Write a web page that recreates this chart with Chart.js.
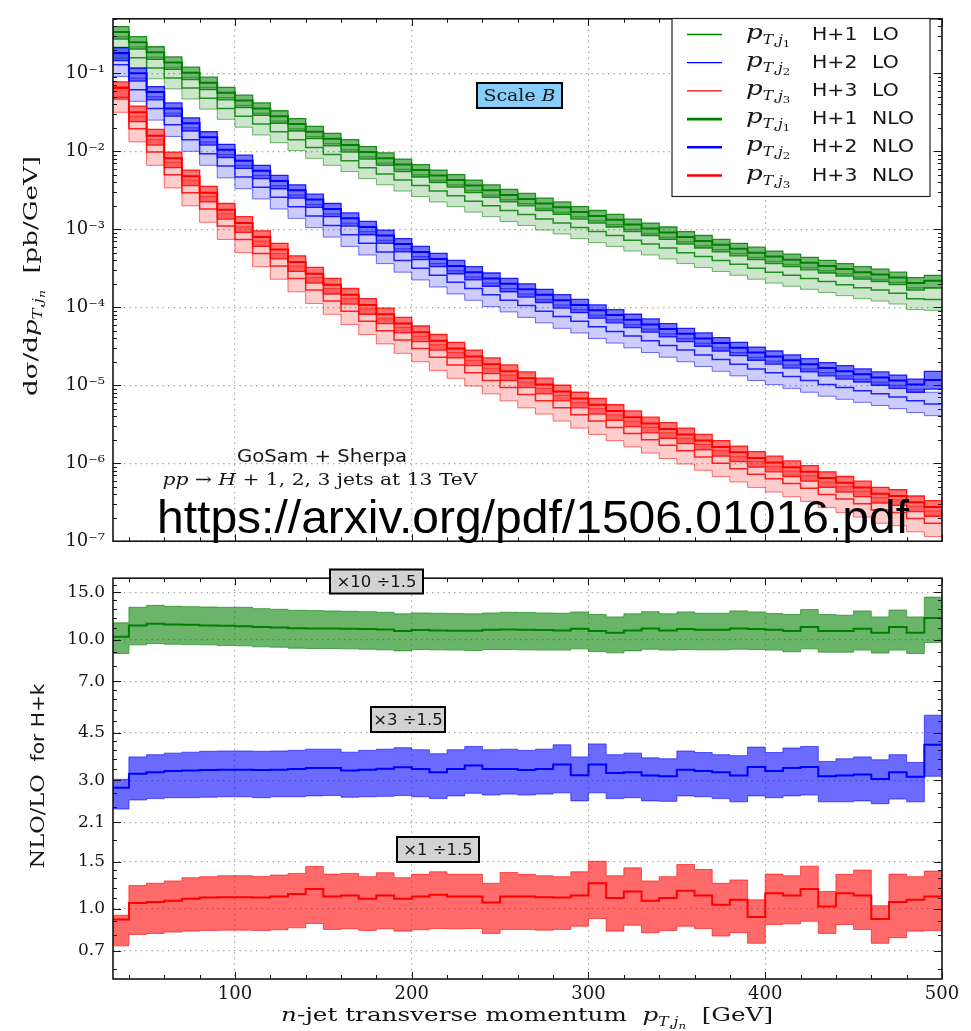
<!DOCTYPE html>
<html>
<head>
<meta charset="utf-8">
<script src="https://cdn.jsdelivr.net/npm/chart.js@4.4.1/dist/chart.umd.min.js"></script>
<style>
body { margin: 0; background: #fff; }
#wrap { position: relative; width: 971px; height: 1031px; }
canvas { position: absolute; left: 0; }
#top { top: 0; }
#bot { top: 560px; }
</style>
</head>
<body>
<div id="wrap">
<canvas id="top" width="971" height="560"></canvas>
<canvas id="bot" width="971" height="471"></canvas>
</div>
<script>
// bin edges in GeV (47 bins of 10 GeV)
var binEdges = [30, 40, 50, 60, 70, 80, 90, 100, 110, 120, 130, 140, 150, 160, 170, 180, 190, 200, 210, 220, 230, 240, 250, 260, 270, 280, 290, 300, 310, 320, 330, 340, 350, 360, 370, 380, 390, 400, 410, 420, 430, 440, 450, 460, 470, 480, 490, 500];

var xTickValues = [100, 200, 300, 400, 500];
var xMinorTicks = [40, 60, 80, 120, 140, 160, 180, 220, 240, 260, 280, 320, 340, 360, 380, 420, 440, 460, 480];
var topYTicks = [1e-7, 1e-6, 1e-5, 1e-4, 1e-3, 1e-2, 1e-1];
var topYLabels = ['10⁻⁷', '10⁻⁶', '10⁻⁵', '10⁻⁴', '10⁻³', '10⁻²', '10⁻¹'];
var ratioYTicks = [0.7, 1.0, 1.5, 2.1, 3.0, 4.5, 7.0, 10.0, 15.0];
var ratioYLabels = ['0.7', '1.0', '1.5', '2.1', '3.0', '4.5', '7.0', '10.0', '15.0'];
var ratioYMinor = [0.6, 0.8, 0.9, 1.1, 1.2, 1.3, 1.4, 1.8, 2.4, 2.7, 3.3, 3.6, 3.9, 4.2, 5, 5.5, 6, 6.5, 8, 9, 11, 12, 13, 14, 16];

var legendJets = ['1', '2', '3', '1', '2', '3'];
var legendProcs = ['H+1', 'H+2', 'H+3', 'H+1', 'H+2', 'H+3'];
var legendOrders = ['LO', 'LO', 'LO', 'NLO', 'NLO', 'NLO'];
var ratioFactors = ['×10 ÷1.5', '×3 ÷1.5', '×1 ÷1.5'];

// d sigma / d pT  [pb/GeV], H+1 (green)
var greenLoLow = [1.55e-1,1.15e-1,8.51e-2,6.31e-2,4.68e-2,3.47e-2,2.57e-2,2.04e-2,1.62e-2,1.29e-2,1.02e-2,8.13e-3,6.61e-3,5.50e-3,4.47e-3,3.72e-3,3.09e-3,2.63e-3,2.24e-3,1.95e-3,1.66e-3,1.45e-3,1.26e-3,1.12e-3,9.77e-4,8.71e-4,7.59e-4,6.76e-4,6.03e-4,5.25e-4,4.68e-4,4.17e-4,3.63e-4,3.24e-4,2.88e-4,2.57e-4,2.29e-4,2.04e-4,1.86e-4,1.70e-4,1.55e-4,1.41e-4,1.29e-4,1.20e-4,1.10e-4,9.33e-5,9.12e-5];
var greenLoMid = [2.14e-1,1.58e-1,1.17e-1,8.71e-2,6.46e-2,4.79e-2,3.55e-2,2.82e-2,2.24e-2,1.78e-2,1.41e-2,1.12e-2,9.12e-3,7.59e-3,6.17e-3,5.13e-3,4.27e-3,3.63e-3,3.09e-3,2.69e-3,2.29e-3,2.00e-3,1.74e-3,1.55e-3,1.35e-3,1.20e-3,1.05e-3,9.33e-4,8.32e-4,7.24e-4,6.46e-4,5.75e-4,5.01e-4,4.47e-4,3.98e-4,3.55e-4,3.16e-4,2.82e-4,2.57e-4,2.34e-4,2.14e-4,1.95e-4,1.78e-4,1.66e-4,1.51e-4,1.29e-4,1.26e-4];
var greenLoHigh = [2.95e-1,2.19e-1,1.62e-1,1.20e-1,8.91e-2,6.61e-2,4.90e-2,3.89e-2,3.09e-2,2.45e-2,1.95e-2,1.55e-2,1.26e-2,1.05e-2,8.51e-3,7.08e-3,5.89e-3,5.01e-3,4.27e-3,3.72e-3,3.16e-3,2.75e-3,2.40e-3,2.14e-3,1.86e-3,1.66e-3,1.45e-3,1.29e-3,1.15e-3,1.00e-3,8.91e-4,7.94e-4,6.92e-4,6.17e-4,5.50e-4,4.90e-4,4.37e-4,3.89e-4,3.55e-4,3.24e-4,2.95e-4,2.69e-4,2.45e-4,2.29e-4,2.09e-4,1.78e-4,1.74e-4];
var greenNloLow = [2.75e-1,2.04e-1,1.51e-1,1.12e-1,8.32e-2,6.17e-2,4.57e-2,3.63e-2,2.88e-2,2.29e-2,1.82e-2,1.45e-2,1.17e-2,9.77e-3,7.94e-3,6.61e-3,5.50e-3,4.68e-3,3.98e-3,3.47e-3,2.95e-3,2.57e-3,2.24e-3,2.00e-3,1.74e-3,1.55e-3,1.35e-3,1.20e-3,1.07e-3,9.33e-4,8.32e-4,7.41e-4,6.46e-4,5.75e-4,5.13e-4,4.57e-4,4.07e-4,3.63e-4,3.31e-4,3.02e-4,2.75e-4,2.51e-4,2.29e-4,2.14e-4,1.95e-4,1.66e-4,1.78e-4];
var greenNloMid = [3.39e-1,2.51e-1,1.86e-1,1.38e-1,1.02e-1,7.59e-2,5.62e-2,4.47e-2,3.55e-2,2.82e-2,2.24e-2,1.78e-2,1.45e-2,1.20e-2,9.77e-3,8.13e-3,6.76e-3,5.75e-3,4.90e-3,4.27e-3,3.63e-3,3.16e-3,2.75e-3,2.45e-3,2.14e-3,1.91e-3,1.66e-3,1.48e-3,1.32e-3,1.15e-3,1.02e-3,9.12e-4,7.94e-4,7.08e-4,6.31e-4,5.62e-4,5.01e-4,4.47e-4,4.07e-4,3.72e-4,3.39e-4,3.09e-4,2.82e-4,2.63e-4,2.40e-4,2.04e-4,2.19e-4];
var greenNloHigh = [3.98e-1,2.95e-1,2.19e-1,1.62e-1,1.20e-1,8.91e-2,6.61e-2,5.25e-2,4.17e-2,3.31e-2,2.63e-2,2.09e-2,1.70e-2,1.41e-2,1.15e-2,9.55e-3,7.94e-3,6.76e-3,5.75e-3,5.01e-3,4.27e-3,3.72e-3,3.24e-3,2.88e-3,2.51e-3,2.24e-3,1.95e-3,1.74e-3,1.55e-3,1.35e-3,1.20e-3,1.07e-3,9.33e-4,8.32e-4,7.41e-4,6.61e-4,5.89e-4,5.25e-4,4.79e-4,4.37e-4,3.98e-4,3.63e-4,3.31e-4,3.09e-4,2.82e-4,2.40e-4,2.57e-4];

// H+2 (blue)
var blueLoLow = [9.12e-2,4.37e-2,2.51e-2,1.55e-2,1.00e-2,6.61e-3,4.57e-3,3.31e-3,2.45e-3,1.82e-3,1.38e-3,1.05e-3,7.94e-4,6.03e-4,4.68e-4,3.63e-4,2.82e-4,2.24e-4,1.82e-4,1.48e-4,1.23e-4,1.02e-4,8.71e-5,7.41e-5,6.31e-5,5.37e-5,4.68e-5,3.98e-5,3.47e-5,3.02e-5,2.63e-5,2.29e-5,2.00e-5,1.74e-5,1.51e-5,1.32e-5,1.15e-5,1.02e-5,9.12e-6,8.13e-6,7.24e-6,6.61e-6,6.03e-6,5.50e-6,5.01e-6,4.47e-6,4.07e-6];
var blueLoMid = [1.29e-1,6.17e-2,3.55e-2,2.19e-2,1.41e-2,9.33e-3,6.46e-3,4.68e-3,3.47e-3,2.57e-3,1.95e-3,1.48e-3,1.12e-3,8.51e-4,6.61e-4,5.13e-4,3.98e-4,3.16e-4,2.57e-4,2.09e-4,1.74e-4,1.45e-4,1.23e-4,1.05e-4,8.91e-5,7.59e-5,6.61e-5,5.62e-5,4.90e-5,4.27e-5,3.72e-5,3.24e-5,2.82e-5,2.45e-5,2.14e-5,1.86e-5,1.62e-5,1.45e-5,1.29e-5,1.15e-5,1.02e-5,9.33e-6,8.51e-6,7.76e-6,7.08e-6,6.31e-6,5.75e-6];
var blueLoHigh = [1.78e-1,8.71e-2,5.01e-2,3.09e-2,2.00e-2,1.32e-2,9.12e-3,6.61e-3,4.90e-3,3.63e-3,2.75e-3,2.09e-3,1.58e-3,1.20e-3,9.33e-4,7.24e-4,5.62e-4,4.47e-4,3.63e-4,2.95e-4,2.45e-4,2.04e-4,1.74e-4,1.48e-4,1.26e-4,1.07e-4,9.33e-5,7.94e-5,6.92e-5,6.03e-5,5.25e-5,4.57e-5,3.98e-5,3.47e-5,3.02e-5,2.63e-5,2.29e-5,2.04e-5,1.82e-5,1.62e-5,1.45e-5,1.32e-5,1.20e-5,1.10e-5,1.00e-5,8.91e-6,8.13e-6];
var blueNloLow = [1.45e-1,7.94e-2,4.57e-2,2.82e-2,1.82e-2,1.20e-2,8.32e-3,6.03e-3,4.47e-3,3.31e-3,2.51e-3,1.91e-3,1.45e-3,1.10e-3,8.51e-4,6.61e-4,5.13e-4,4.07e-4,3.31e-4,2.69e-4,2.24e-4,1.86e-4,1.58e-4,1.35e-4,1.15e-4,9.77e-5,8.51e-5,7.24e-5,6.31e-5,5.50e-5,4.79e-5,4.17e-5,3.63e-5,3.16e-5,2.75e-5,2.40e-5,2.09e-5,1.86e-5,1.66e-5,1.48e-5,1.32e-5,1.20e-5,1.10e-5,1.00e-5,9.12e-6,8.13e-6,8.91e-6];
var blueNloMid = [1.82e-1,1.00e-1,5.75e-2,3.55e-2,2.29e-2,1.51e-2,1.05e-2,7.59e-3,5.62e-3,4.17e-3,3.16e-3,2.40e-3,1.82e-3,1.38e-3,1.07e-3,8.32e-4,6.46e-4,5.13e-4,4.17e-4,3.39e-4,2.82e-4,2.34e-4,2.00e-4,1.70e-4,1.45e-4,1.23e-4,1.07e-4,9.12e-5,7.94e-5,6.92e-5,6.03e-5,5.25e-5,4.57e-5,3.98e-5,3.47e-5,3.02e-5,2.63e-5,2.34e-5,2.09e-5,1.86e-5,1.66e-5,1.51e-5,1.38e-5,1.26e-5,1.15e-5,1.02e-5,1.17e-5];
var blueNloHigh = [2.14e-1,1.17e-1,6.76e-2,4.17e-2,2.69e-2,1.78e-2,1.23e-2,8.91e-3,6.61e-3,4.90e-3,3.72e-3,2.82e-3,2.14e-3,1.62e-3,1.26e-3,9.77e-4,7.59e-4,6.03e-4,4.90e-4,3.98e-4,3.31e-4,2.75e-4,2.34e-4,2.00e-4,1.70e-4,1.45e-4,1.26e-4,1.07e-4,9.33e-5,8.13e-5,7.08e-5,6.17e-5,5.37e-5,4.68e-5,4.07e-5,3.55e-5,3.09e-5,2.75e-5,2.45e-5,2.19e-5,1.95e-5,1.78e-5,1.62e-5,1.48e-5,1.35e-5,1.20e-5,1.51e-5];

// H+3 (red)
var redLoLow = [3.16e-2,1.32e-2,6.61e-3,3.39e-3,2.00e-3,1.23e-3,7.41e-4,5.01e-4,3.31e-4,2.29e-4,1.58e-4,1.12e-4,8.13e-5,6.03e-5,4.47e-5,3.39e-5,2.57e-5,2.00e-5,1.55e-5,1.23e-5,9.77e-6,7.76e-6,6.31e-6,5.13e-6,4.27e-6,3.47e-6,2.82e-6,2.34e-6,1.95e-6,1.62e-6,1.35e-6,1.15e-6,9.77e-7,8.13e-7,6.76e-7,5.75e-7,4.90e-7,4.27e-7,3.72e-7,3.24e-7,2.69e-7,2.34e-7,2.04e-7,1.70e-7,1.58e-7,1.32e-7,1.15e-7];
var redLoMid = [4.68e-2,1.95e-2,9.77e-3,5.01e-3,2.95e-3,1.82e-3,1.10e-3,7.41e-4,4.90e-4,3.39e-4,2.34e-4,1.66e-4,1.20e-4,8.91e-5,6.61e-5,5.01e-5,3.80e-5,2.95e-5,2.29e-5,1.82e-5,1.45e-5,1.15e-5,9.33e-6,7.59e-6,6.31e-6,5.13e-6,4.17e-6,3.47e-6,2.88e-6,2.40e-6,2.00e-6,1.70e-6,1.45e-6,1.20e-6,1.00e-6,8.51e-7,7.24e-7,6.31e-7,5.50e-7,4.79e-7,3.98e-7,3.47e-7,3.02e-7,2.51e-7,2.34e-7,1.95e-7,1.70e-7];
var redLoHigh = [6.76e-2,2.82e-2,1.41e-2,7.24e-3,4.27e-3,2.63e-3,1.58e-3,1.07e-3,7.08e-4,4.90e-4,3.39e-4,2.40e-4,1.74e-4,1.29e-4,9.55e-5,7.24e-5,5.50e-5,4.27e-5,3.31e-5,2.63e-5,2.09e-5,1.66e-5,1.35e-5,1.10e-5,9.12e-6,7.41e-6,6.03e-6,5.01e-6,4.17e-6,3.47e-6,2.88e-6,2.45e-6,2.09e-6,1.74e-6,1.45e-6,1.23e-6,1.05e-6,9.12e-7,7.94e-7,6.92e-7,5.75e-7,5.01e-7,4.37e-7,3.63e-7,3.39e-7,2.82e-7,2.45e-7];
var redNloLow = [4.90e-2,2.40e-2,1.20e-2,6.17e-3,3.63e-3,2.24e-3,1.35e-3,9.12e-4,6.03e-4,4.17e-4,2.88e-4,2.04e-4,1.48e-4,1.10e-4,8.13e-5,6.17e-5,4.68e-5,3.63e-5,2.82e-5,2.24e-5,1.78e-5,1.41e-5,1.15e-5,9.33e-6,7.76e-6,6.31e-6,5.13e-6,4.27e-6,3.55e-6,2.95e-6,2.45e-6,2.09e-6,1.78e-6,1.48e-6,1.23e-6,1.05e-6,8.91e-7,7.76e-7,6.76e-7,5.89e-7,4.90e-7,4.27e-7,3.72e-7,3.09e-7,2.88e-7,2.40e-7,2.09e-7];
var redNloMid = [6.46e-2,3.16e-2,1.58e-2,8.13e-3,4.79e-3,2.95e-3,1.78e-3,1.20e-3,7.94e-4,5.50e-4,3.80e-4,2.69e-4,1.95e-4,1.45e-4,1.07e-4,8.13e-5,6.17e-5,4.79e-5,3.72e-5,2.95e-5,2.34e-5,1.86e-5,1.51e-5,1.23e-5,1.02e-5,8.32e-6,6.76e-6,5.62e-6,4.68e-6,3.89e-6,3.24e-6,2.75e-6,2.34e-6,1.95e-6,1.62e-6,1.38e-6,1.17e-6,1.02e-6,8.91e-7,7.76e-7,6.46e-7,5.62e-7,4.90e-7,4.07e-7,3.80e-7,3.16e-7,2.75e-7];
var redNloHigh = [7.76e-2,3.80e-2,1.91e-2,9.77e-3,5.75e-3,3.55e-3,2.14e-3,1.45e-3,9.55e-4,6.61e-4,4.57e-4,3.24e-4,2.34e-4,1.74e-4,1.29e-4,9.77e-5,7.41e-5,5.75e-5,4.47e-5,3.55e-5,2.82e-5,2.24e-5,1.82e-5,1.48e-5,1.23e-5,1.00e-5,8.13e-6,6.76e-6,5.62e-6,4.68e-6,3.89e-6,3.31e-6,2.82e-6,2.34e-6,1.95e-6,1.66e-6,1.41e-6,1.23e-6,1.07e-6,9.33e-7,7.76e-7,6.76e-7,5.89e-7,4.90e-7,4.57e-7,3.80e-7,3.31e-7];

// NLO/LO as plotted (already scaled by the x10/1.5, x3/1.5, x1/1.5 factors)
var greenRatioLow = [8.88,9.56,9.67,9.61,9.58,9.56,9.50,9.48,9.40,9.37,9.29,9.27,9.27,9.24,9.21,9.16,9.08,9.19,9.16,9.14,9.11,9.19,9.19,9.16,9.14,9.14,9.24,9.03,8.93,9.08,9.21,9.14,9.19,9.16,9.16,9.21,9.19,9.14,9.01,9.24,8.98,8.98,9.14,8.91,9.14,8.88,9.75];
var greenRatioMid = [10.25,11.29,11.45,11.38,11.35,11.29,11.25,11.22,11.13,11.09,11.03,11.00,11.00,10.97,10.94,10.91,10.76,10.85,10.82,10.79,10.79,10.88,10.91,10.88,10.85,10.82,10.97,10.76,10.61,10.82,11.00,10.82,10.94,10.88,10.88,11.00,10.94,10.88,10.76,11.13,10.76,10.76,10.97,10.61,11.13,10.61,12.04];
var greenRatioHigh = [11.54,13.18,13.40,13.29,13.25,13.21,13.18,13.18,13.03,12.96,12.85,12.81,12.78,12.74,12.70,12.63,12.46,12.56,12.53,12.49,12.46,12.56,12.63,12.60,12.56,12.53,12.67,12.39,12.14,12.46,12.70,12.46,12.67,12.53,12.53,12.78,12.67,12.49,12.39,12.92,12.39,12.32,12.78,12.14,12.88,12.14,14.38];
var blueRatioLow = [2.35,2.54,2.57,2.59,2.59,2.60,2.61,2.61,2.59,2.61,2.61,2.63,2.64,2.60,2.61,2.62,2.64,2.61,2.57,2.63,2.69,2.65,2.67,2.65,2.67,2.70,2.52,2.70,2.57,2.59,2.52,2.51,2.63,2.61,2.57,2.50,2.63,2.59,2.63,2.65,2.50,2.50,2.52,2.46,2.56,2.50,3.11];
var blueRatioMid = [2.82,3.18,3.22,3.25,3.27,3.28,3.29,3.29,3.28,3.29,3.31,3.34,3.34,3.27,3.29,3.32,3.36,3.31,3.22,3.31,3.41,3.31,3.31,3.28,3.31,3.44,3.14,3.44,3.20,3.22,3.13,3.11,3.29,3.25,3.22,3.13,3.37,3.25,3.34,3.37,3.11,3.13,3.16,3.04,3.22,3.10,4.07];
var blueRatioHigh = [3.03,3.67,3.74,3.79,3.82,3.85,3.86,3.86,3.85,3.86,3.88,3.92,3.92,3.82,3.88,3.92,3.97,3.90,3.77,3.90,4.01,3.90,3.92,3.88,3.92,4.07,3.67,4.10,3.74,3.79,3.64,3.61,3.86,3.81,3.74,3.71,3.99,3.81,3.96,4.01,3.53,3.61,3.67,3.58,3.74,3.50,5.24];
var redRatioLow = [0.730,0.805,0.812,0.821,0.828,0.833,0.835,0.835,0.833,0.838,0.852,0.884,0.840,0.845,0.833,0.845,0.828,0.838,0.847,0.845,0.847,0.812,0.840,0.840,0.835,0.840,0.864,0.922,0.828,0.871,0.817,0.833,0.864,0.847,0.794,0.817,0.746,0.876,0.881,0.901,0.812,0.876,0.840,0.746,0.783,0.828,0.833];
var redRatioMid = [0.914,1.052,1.061,1.073,1.091,1.104,1.107,1.107,1.104,1.113,1.136,1.188,1.113,1.123,1.091,1.123,1.091,1.113,1.129,1.113,1.113,1.058,1.113,1.113,1.107,1.104,1.123,1.246,1.098,1.161,1.073,1.098,1.168,1.123,1.038,1.082,0.935,1.145,1.123,1.188,1.023,1.145,1.123,0.919,1.061,1.082,1.113];
var redRatioHigh = [0.948,1.222,1.246,1.271,1.307,1.318,1.329,1.329,1.322,1.337,1.356,1.438,1.348,1.356,1.318,1.364,1.307,1.345,1.375,1.345,1.345,1.246,1.367,1.345,1.329,1.318,1.375,1.505,1.329,1.422,1.271,1.318,1.463,1.402,1.246,1.282,1.082,1.348,1.329,1.443,1.161,1.345,1.395,1.029,1.348,1.318,1.383];

var series = [
    {col: [0, 128, 0], lo: [greenLoLow, greenLoMid, greenLoHigh], nlo: [greenNloLow, greenNloMid, greenNloHigh], ratio: [greenRatioLow, greenRatioMid, greenRatioHigh]},
    {col: [0, 0, 255], lo: [blueLoLow, blueLoMid, blueLoHigh], nlo: [blueNloLow, blueNloMid, blueNloHigh], ratio: [blueRatioLow, blueRatioMid, blueRatioHigh]},
    {col: [255, 0, 0], lo: [redLoLow, redLoMid, redLoHigh], nlo: [redNloLow, redNloMid, redNloHigh], ratio: [redRatioLow, redRatioMid, redRatioHigh]}
];

var SERIF = '"DejaVu Serif", serif';
var SANS = '"DejaVu Sans", sans-serif';
var INK = '#151515';

function rgba(c, a) {
    return 'rgba(' + c[0] + ',' + c[1] + ',' + c[2] + ',' + a + ')';
}

// histogram points: value i holds from edge i to edge i+1
function steps(vals) {
    var pts = [];
    for (var i = 0; i < vals.length; i++) {
        pts.push({x: binEdges[i], y: vals[i]});
    }
    pts.push({x: binEdges[vals.length], y: vals[vals.length - 1]});
    return pts;
}

function stepLine(vals, color, width, order) {
    return {data: steps(vals), borderColor: color, borderWidth: width, stepped: 'before',
        pointRadius: 0, fill: false, order: order, borderJoinStyle: 'miter'};
}

function bandSets(lo, hi, fillColor, edgeColor, width, order) {
    var a = stepLine(lo, edgeColor, width, order);
    var b = stepLine(hi, edgeColor, width, order);
    b.fill = '-1';
    b.backgroundColor = fillColor;
    return [a, b];
}

var topSets = [];
var botSets = [];
series.forEach(function (s, k) {
    topSets = topSets.concat(bandSets(s.lo[0], s.lo[2], rgba(s.col, 0.2), rgba(s.col, 0.55), 1, 60 + k));
    topSets.push(stepLine(s.lo[1], rgba(s.col, 0.85), 1.5, 50 + k));
    topSets = topSets.concat(bandSets(s.nlo[0], s.nlo[2], rgba(s.col, 0.55), rgba(s.col, 0.85), 1.3, 40 + k));
    topSets.push(stepLine(s.nlo[1], rgba(s.col, 1), 2, 30 + k));

    botSets = botSets.concat(bandSets(s.ratio[0], s.ratio[2], rgba(s.col, 0.58), rgba(s.col, 0.6), 1, 20 + k));
    botSets.push(stepLine(s.ratio[1], rgba(s.col, 1), 2, 10 + k));
});

// text made of pieces with their own font and vertical shift
function rich(ctx, parts, x, y, opt) {
    opt = opt || {};
    ctx.save();
    ctx.translate(x, y);
    if (opt.rot) ctx.rotate(opt.rot);
    var w = 0;
    parts.forEach(function (p) { ctx.font = p[1]; w += ctx.measureText(p[0]).width; });
    var sx = opt.fit ? opt.fit / w : (opt.sx || 1);
    ctx.scale(sx, 1);
    var cx = opt.align === 'center' ? -w / 2 : (opt.align === 'right' ? -w : 0);
    ctx.textAlign = 'left';
    ctx.textBaseline = 'alphabetic';
    ctx.fillStyle = opt.color || INK;
    parts.forEach(function (p) {
        ctx.font = p[1];
        ctx.fillText(p[0], cx, p[2] || 0);
        cx += ctx.measureText(p[0]).width;
    });
    ctx.restore();
}

// frame with inward ticks on all four sides
function frame(chart, yMajor, yMinor) {
    var ctx = chart.ctx, a = chart.chartArea;
    var sx = chart.scales.x, sy = chart.scales.y;
    ctx.save();
    ctx.strokeStyle = INK;
    ctx.lineWidth = 1;
    ctx.beginPath();
    function vt(v, len) {
        var p = Math.round(sx.getPixelForValue(v)) + 0.5;
        ctx.moveTo(p, a.bottom); ctx.lineTo(p, a.bottom - len);
        ctx.moveTo(p, a.top); ctx.lineTo(p, a.top + len);
    }
    function ht(v, len) {
        var p = Math.round(sy.getPixelForValue(v)) + 0.5;
        if (p < a.top || p > a.bottom) return;
        ctx.moveTo(a.left, p); ctx.lineTo(a.left + len, p);
        ctx.moveTo(a.right, p); ctx.lineTo(a.right - len, p);
    }
    xTickValues.forEach(function (v) { vt(v, 7); });
    xMinorTicks.forEach(function (v) { vt(v, 4); });
    yMajor.forEach(function (v) { ht(v, 8); });
    yMinor.forEach(function (v) { ht(v, 4); });
    ctx.stroke();
    ctx.lineWidth = 1.6;
    ctx.strokeRect(a.left, a.top, a.right - a.left, a.bottom - a.top);
    ctx.restore();
}

var topYMinor = [];
topYTicks.forEach(function (d) {
    for (var k = 2; k <= 9; k++) {
        if (k * d <= 0.5) topYMinor.push(k * d);
    }
});

function gridOpts() {
    return {color: '#a8a8a8', lineWidth: 1.2, drawTicks: false};
}

function xAxis(showLabels, height) {
    return {
        type: 'linear', min: 31, max: 500, bounds: 'data',
        afterBuildTicks: function (s) { s.ticks = xTickValues.map(function (v) { return {value: v}; }); },
        afterFit: function (s) { s.height = height; },
        grid: gridOpts(),
        border: {display: false, dash: [1.5, 4]},
        ticks: {display: showLabels, padding: 5, maxRotation: 0, autoSkip: false, color: INK,
            font: {family: SERIF, size: 18}}
    };
}

function yAxis(min, max, ticks, labels, size) {
    return {
        type: 'logarithmic', min: min, max: max, bounds: 'data',
        afterBuildTicks: function (s) { s.ticks = ticks.map(function (v) { return {value: v}; }); },
        afterFit: function (s) { s.width = 113; },
        grid: gridOpts(),
        border: {display: false, dash: [1.5, 4]},
        ticks: {padding: 8, color: INK, font: {family: SERIF, size: size},
            callback: function (v) { return labels[ticks.indexOf(v)]; }}
    };
}

var topDecor = {
    id: 'topDecor',
    afterDraw: function (chart) {
        var ctx = chart.ctx;
        frame(chart, topYTicks, topYMinor);

        // Scale B
        ctx.save();
        ctx.fillStyle = '#87cefa';
        ctx.fillRect(477, 83, 85, 25);
        ctx.lineWidth = 2;
        ctx.strokeStyle = '#000';
        ctx.strokeRect(477, 83, 85, 25);
        ctx.restore();
        rich(ctx, [['Scale ', '16px ' + SERIF], ['B', 'italic 16px ' + SERIF]], 519.5, 101, {align: 'center', fit: 72});

        // legend
        ctx.save();
        ctx.fillStyle = '#fff';
        ctx.fillRect(672, 18.5, 258, 178);
        ctx.strokeStyle = '#222';
        ctx.lineWidth = 1.2;
        ctx.strokeRect(672, 18.5, 258, 178);
        for (var i = 0; i < 6; i++) {
            var yc = 33.5 + 28.2 * i;
            var s = series[i % 3];
            ctx.strokeStyle = rgba(s.col, 1);
            ctx.lineWidth = i < 3 ? 1.3 : 2.6;
            ctx.beginPath();
            ctx.moveTo(687, yc + 1);
            ctx.lineTo(722, yc + 1);
            ctx.stroke();
            rich(ctx, [['p', 'italic 20px ' + SERIF], ['T', 'italic 12px ' + SERIF, 5], [',', '12px ' + SERIF, 5],
                ['j', 'italic 12px ' + SERIF, 5], [legendJets[i], '9px ' + SERIF, 8]],
                746, yc + 5, {sx: 1.3});
            rich(ctx, [[legendProcs[i], '17px ' + SANS]], 812, yc + 6, {sx: 1.2});
            rich(ctx, [[legendOrders[i], '17px ' + SANS]], 872, yc + 6, {sx: 1.2});
        }
        ctx.restore();

        // process text
        rich(ctx, [['GoSam + Sherpa', '17px ' + SANS]], 322, 462, {align: 'center', fit: 170});
        rich(ctx, [['pp', 'italic 17px ' + SERIF], [' → ', '17px ' + SERIF], ['H', 'italic 17px ' + SERIF],
            [' + 1, 2, 3 jets at 13 TeV', '17px ' + SERIF]], 320, 485, {align: 'center', fit: 315});

        // y title
        rich(ctx, [['dσ/d', '19px ' + SERIF], ['p', 'italic 19px ' + SERIF], ['T', 'italic 12px ' + SERIF, 5],
            [',', '12px ' + SERIF, 5], ['j', 'italic 12px ' + SERIF, 5],
            ['n', 'italic 9px ' + SERIF, 8], ['  [pb/GeV]', '19px ' + SERIF]], 37, 276,
            {align: 'center', rot: -Math.PI / 2, fit: 240});

        // source watermark
        rich(ctx, [['https://arxiv.org/pdf/1506.01016.pdf', '47px "Liberation Sans", Arial, sans-serif']], 157, 533,
            {fit: 752, color: '#000'});
    }
};

var botDecor = {
    id: 'botDecor',
    afterDraw: function (chart) {
        var ctx = chart.ctx;
        frame(chart, ratioYTicks, ratioYMinor);

        var boxes = [[330, 9.5, 93, 24], [371, 147, 74, 25], [397, 277, 82, 25]];
        boxes.forEach(function (b, i) {
            ctx.save();
            ctx.fillStyle = '#d3d3d3';
            ctx.fillRect(b[0], b[1], b[2], b[3]);
            ctx.lineWidth = 2;
            ctx.strokeStyle = '#000';
            ctx.strokeRect(b[0], b[1], b[2], b[3]);
            ctx.restore();
            rich(ctx, [[ratioFactors[i], '15px ' + SANS]], b[0] + b[2] / 2, b[1] + b[3] / 2 + 5.5,
                {align: 'center', sx: 1.1});
        });

        // axis titles
        rich(ctx, [['n', 'italic 19px ' + SERIF], ['-jet transverse momentum  ', '19px ' + SERIF],
            ['p', 'italic 19px ' + SERIF], ['T', 'italic 12px ' + SERIF, 5], [',', '12px ' + SERIF, 5],
            ['j', 'italic 12px ' + SERIF, 5], ['n', 'italic 9px ' + SERIF, 8],
            ['  [GeV]', '19px ' + SERIF]], 527, 461, {align: 'center', fit: 492});
        rich(ctx, [['NLO/LO', '19px ' + SERIF], ['  for H+k', '17px ' + SANS]], 44, 216,
            {align: 'center', rot: -Math.PI / 2, fit: 185});
    }
};

var common = {
    responsive: false,
    animation: false,
    events: [],
    plugins: {legend: {display: false}, tooltip: {enabled: false}}
};

new Chart(document.getElementById('top'), {
    type: 'line',
    data: {datasets: topSets},
    options: Object.assign({}, common, {
        layout: {padding: {top: 9, right: 29, left: 0, bottom: 0}},
        scales: {
            x: xAxis(false, 11),
            y: yAxis(1e-7, 0.5, topYTicks, topYLabels, 18)
        }
    }),
    plugins: [topDecor]
});

new Chart(document.getElementById('bot'), {
    type: 'line',
    data: {datasets: botSets},
    options: Object.assign({}, common, {
        layout: {padding: {top: 13, right: 29, left: 0, bottom: 0}},
        scales: {
            x: xAxis(true, 52),
            y: yAxis(0.55, 16.9, ratioYTicks, ratioYLabels, 17)
        }
    }),
    plugins: [botDecor]
});
</script>
</body>
</html>
